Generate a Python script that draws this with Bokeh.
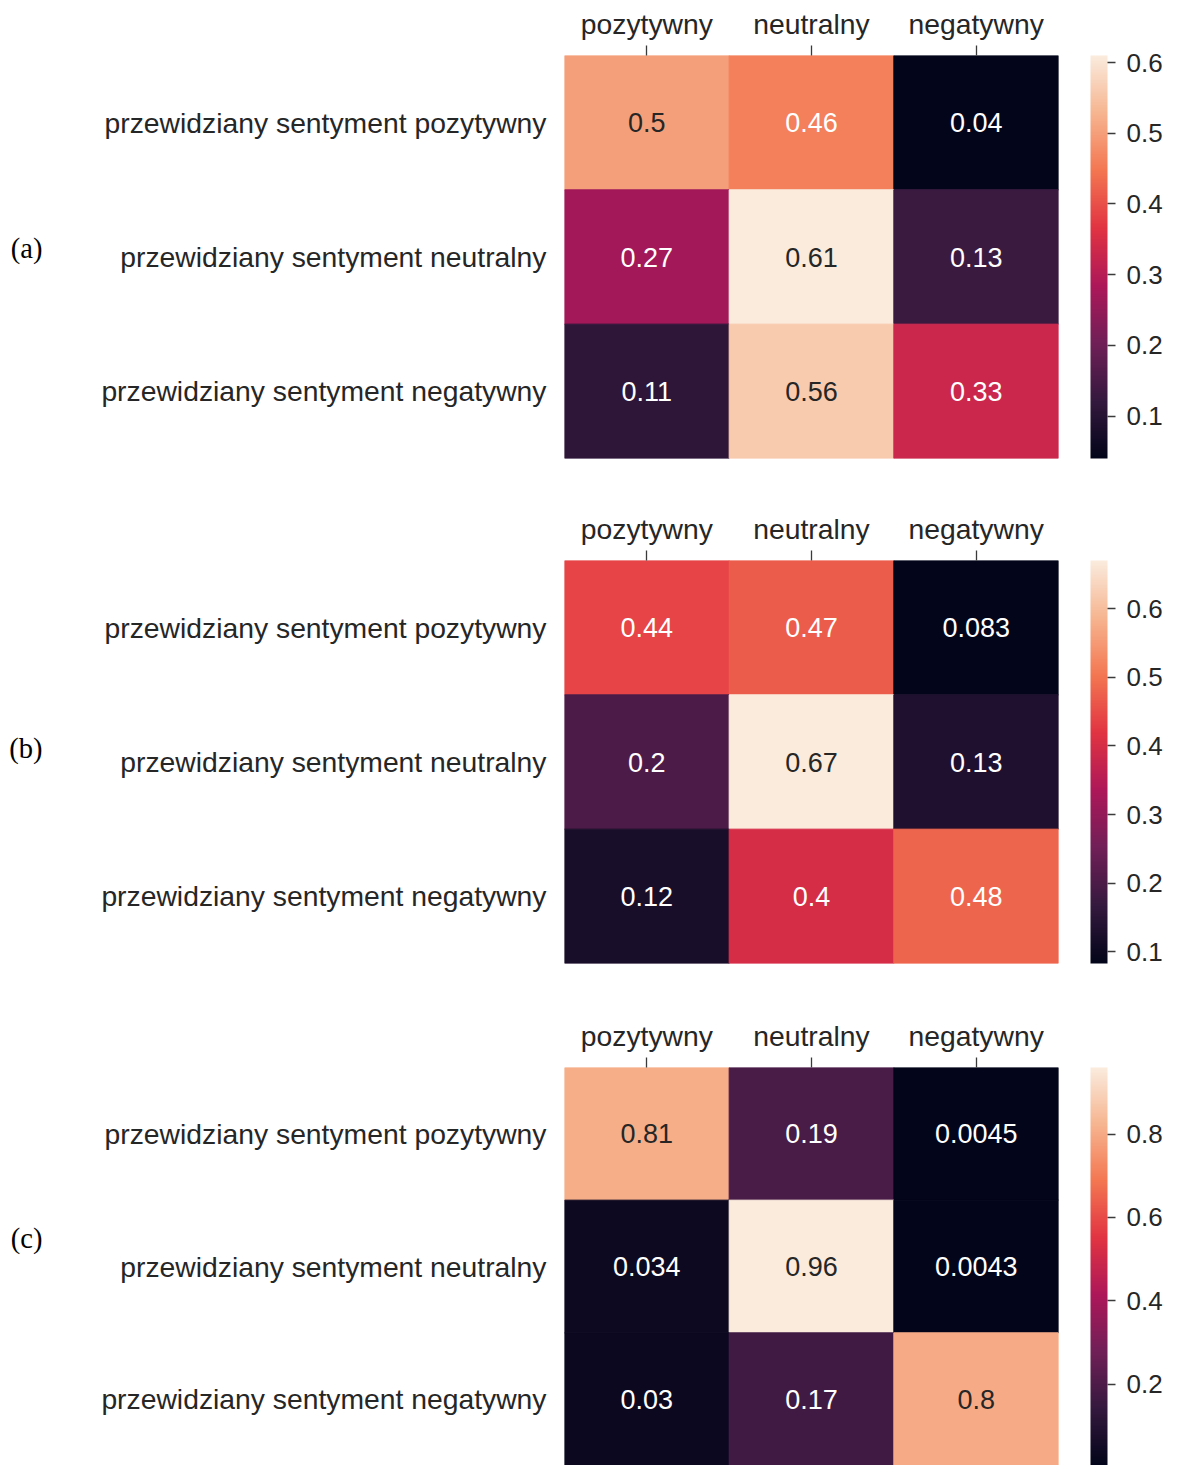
import numpy as np
from bokeh.plotting import figure
from bokeh.layouts import column
from bokeh.models import (ColumnDataSource, LinearColorMapper, ColorBar, FixedTicker,
                          PrintfTickFormatter, LinearAxis, Range1d)
from bokeh.transform import transform
from bokeh.embed import file_html
from bokeh.resources import INLINE
from bokeh.core.properties import value

# ---------------- data ----------------
true_labels = ["pozytywny", "neutralny", "negatywny"]
pred_labels = ["przewidziany sentyment pozytywny",
               "przewidziany sentyment neutralny",
               "przewidziany sentyment negatywny"]
panel_names = ["(a)", "(b)", "(c)"]

matrix_a = [[0.5, 0.46, 0.04],
            [0.27, 0.61, 0.13],
            [0.11, 0.56, 0.33]]
matrix_b = [[0.44, 0.47, 0.083],
            [0.2, 0.67, 0.13],
            [0.12, 0.4, 0.48]]
matrix_c = [[0.81, 0.19, 0.0045],
            [0.034, 0.96, 0.0043],
            [0.03, 0.17, 0.8]]

cbar_ticks_a = [0.1, 0.2, 0.3, 0.4, 0.5, 0.6]
cbar_ticks_b = [0.1, 0.2, 0.3, 0.4, 0.5, 0.6]
cbar_ticks_c = [0.2, 0.4, 0.6, 0.8]

# ---------------- palette (seaborn "rocket" approximation) ----------------
anchor_hex = ["#03051a", "#35193e", "#701f57", "#ad1759",
              "#e13342", "#f37651", "#f6b48f", "#faebdd"]
anchor_pos = [0, 1/7, 2/7, 3/7, 4/7, 5/7, 6/7, 1]
anchor_rgb = np.array([[int(h[i:i+2], 16) for i in (1, 3, 5)] for h in anchor_hex], float)
grid = np.linspace(0, 1, 256)
pal_rgb = np.stack([np.interp(grid, anchor_pos, anchor_rgb[:, c]) for c in range(3)], axis=1)
palette = ["#%02x%02x%02x" % tuple(int(round(v)) for v in row) for row in pal_rgb]


def lum(rgb):
    r = np.array(rgb) / 255.0
    lin = np.where(r <= 0.03928, r / 12.92, ((r + 0.055) / 1.055) ** 2.4)
    return 0.2126 * lin[0] + 0.7152 * lin[1] + 0.0722 * lin[2]


TXT = "#262626"
FONT = "Liberation Sans"
BORDER_TOP = 55
n_rows = len(pred_labels)
row_centers = [n_rows - 1 - i + 0.5 for i in range(n_rows)]


def make_panel(matrix, ticks, name, height, border_bottom, label_y_top):
    vals = np.array(matrix, float)
    lo, hi = vals.min(), vals.max()
    mapper = LinearColorMapper(palette=palette, low=lo, high=hi)
    xs, ys, vs, labs, tcs = [], [], [], [], []
    for i, row in enumerate(pred_labels):
        for j, col in enumerate(true_labels):
            v = matrix[i][j]
            idx = int(min(255, max(0, (v - lo) / (hi - lo) * 256)))
            tc = TXT if lum(pal_rgb[idx]) > 0.408 else "#ffffff"
            xs.append(col); ys.append(row_centers[i]); vs.append(v)
            labs.append(format(v, ".2g")); tcs.append(tc)
    src = ColumnDataSource(dict(x=xs, y=ys, v=vs, label=labs, tc=tcs))

    frame_h = height - BORDER_TOP - border_bottom
    p = figure(width=1179, height=height, x_range=true_labels,
               y_range=Range1d(0, n_rows),
               x_axis_location="above", output_backend="svg", toolbar_location=None,
               min_border_left=564, min_border_right=121, min_border_top=BORDER_TOP,
               min_border_bottom=border_bottom)
    p.outline_line_color = None
    p.grid.grid_line_color = None
    p.background_fill_color = "white"
    p.border_fill_color = "white"

    p.rect(x="x", y="y", width=1, height=1, source=src,
           fill_color=transform("v", mapper), line_color=transform("v", mapper))
    p.text(x="x", y="y", text="label", text_color="tc", source=src,
           text_align="center", text_baseline="middle",
           text_font=value(FONT), text_font_size="27px")

    xa = p.xaxis[0]
    xa.axis_line_color = None
    xa.major_tick_out = 10
    xa.major_tick_in = 0
    xa.major_tick_line_color = "#3a3a3a"
    xa.major_tick_line_width = 1.3
    xa.major_label_standoff = 6
    xa.major_label_text_font = FONT
    xa.major_label_text_font_size = "28.3px"
    xa.major_label_text_color = TXT

    ya = p.yaxis[0]
    ya.ticker = FixedTicker(ticks=row_centers)
    ya.major_label_overrides = {c: lab for c, lab in zip(row_centers, pred_labels)}
    ya.axis_line_color = None
    ya.major_tick_out = 0
    ya.major_tick_in = 0
    ya.major_tick_line_color = None
    ya.minor_tick_line_color = None
    ya.major_label_standoff = 18
    ya.major_label_text_font = FONT
    ya.major_label_text_font_size = "28.3px"
    ya.major_label_text_color = TXT

    # panel name "(a)" / "(b)" / "(c)" as an outer left axis with a single tick
    p.extra_y_ranges = {"panel": Range1d(start=0, end=frame_h)}
    tick_pos = frame_h - (label_y_top - BORDER_TOP)
    name_axis = LinearAxis(y_range_name="panel", ticker=FixedTicker(ticks=[tick_pos]),
                           major_label_overrides={tick_pos: name},
                           axis_line_color=None, major_tick_line_color=None,
                           minor_tick_line_color=None, major_tick_out=0, major_tick_in=0,
                           major_label_standoff=56,
                           major_label_text_font="Liberation Serif",
                           major_label_text_font_size="28.5px",
                           major_label_text_color="black")
    p.add_layout(name_axis, "left")

    cb = ColorBar(color_mapper=mapper, ticker=FixedTicker(ticks=ticks),
                  formatter=PrintfTickFormatter(format="%.1f"),
                  width=17, height=frame_h, padding=0, margin=0,
                  location=(32, 0),
                  major_tick_out=8, major_tick_in=0, major_tick_line_color="#3a3a3a",
                  major_tick_line_width=1.3,
                  minor_tick_line_color=None,
                  major_label_text_font=FONT, major_label_text_font_size="26px",
                  major_label_text_color=TXT, label_standoff=11,
                  bar_line_color=None, border_line_color=None,
                  background_fill_alpha=0)
    p.add_layout(cb, "right")
    return p


p1 = make_panel(matrix_a, cbar_ticks_a, panel_names[0], 505, 47, 248)
p2 = make_panel(matrix_b, cbar_ticks_b, panel_names[1], 507, 49, 243)
p3 = make_panel(matrix_c, cbar_ticks_c, panel_names[2], 453, 0, 226)

layout = column(p1, p2, p3, spacing=0)
open("out.html", "w").write(file_html(layout, INLINE))
